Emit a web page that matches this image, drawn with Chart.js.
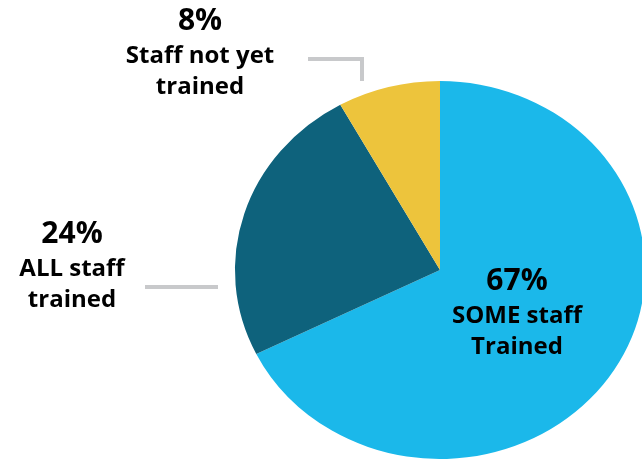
<!DOCTYPE html>
<html>
<head>
<meta charset="utf-8">
<script src="https://cdn.jsdelivr.net/npm/chart.js@4.4.1/dist/chart.umd.min.js"></script>
<style>
  html, body { margin: 0; padding: 0; background: #fff; }
  #wrap { width: 642px; height: 459px; position: relative; }
</style>
</head>
<body>
<div id="wrap"><canvas id="pie-chart"></canvas></div>
<script>
// Chart data
const categories = ['SOME staff Trained', 'ALL staff trained', 'Staff not yet trained'];
const values = [67, 24, 8];
const colors = ['#1bb8ea', '#0e627c', '#edc43c'];

// Label text shown next to each slice (percent + wrapped caption)
const percentLabels = ['67%', '24%', '8%'];
const captionLines = [
  ['SOME staff', 'Trained'],
  ['ALL staff', 'trained'],
  ['Staff not yet', 'trained'],
];

// Where each label block is placed (center x, first baseline y)
const labelPos = [
  { x: 517, y: 290 },
  { x: 72, y: 243 },
  { x: 200, y: 30 },
];

// The pie in the reference is slightly wider than tall
const stretchX = 1.085;

const ellipsePlugin = {
  id: 'ellipse',
  beforeDatasetsDraw(chart) {
    const arc = chart.getDatasetMeta(0).data[0];
    const ctx = chart.ctx;
    ctx.save();
    ctx.translate(arc.x, arc.y);
    ctx.scale(stretchX, 1);
    ctx.translate(-arc.x, -arc.y);
  },
  afterDatasetsDraw(chart) {
    chart.ctx.restore();
  },
};

const labelPlugin = {
  id: 'sliceLabels',
  afterDraw(chart) {
    const ctx = chart.ctx;
    ctx.save();

    // leader lines
    ctx.strokeStyle = '#c8c9cb';
    ctx.lineWidth = 4;
    ctx.lineCap = 'butt';
    ctx.beginPath();
    ctx.moveTo(308, 59);
    ctx.lineTo(362, 59);
    ctx.moveTo(362, 57);
    ctx.lineTo(362, 81);
    ctx.moveTo(145, 287);
    ctx.lineTo(218, 287);
    ctx.stroke();

    ctx.fillStyle = '#000';
    ctx.textAlign = 'center';
    ctx.textBaseline = 'alphabetic';
    percentLabels.forEach((pct, i) => {
      const p = labelPos[i];
      ctx.font = 'bold 30px "Open Sans"';
      ctx.fillText(pct, p.x, p.y);
      ctx.font = 'bold 24px "Open Sans"';
      captionLines[i].forEach((line, j) => {
        ctx.fillText(line, p.x, p.y + 33 + j * 31);
      });
    });
    ctx.restore();
  },
};

const ctxPie = document.getElementById('pie-chart').getContext('2d');
const pieChart = new Chart(ctxPie, {
  type: 'pie',
  data: {
    labels: categories,
    datasets: [
      {
        data: values,
        backgroundColor: colors,
        borderWidth: 0,
        clip: false,
      },
    ],
  },
  options: {
    responsive: true,
    maintainAspectRatio: false,
    animation: false,
    layout: {
      padding: { top: 81, bottom: 0, left: 251, right: 13 },
    },
    plugins: {
      legend: { display: false },
      tooltip: { enabled: false },
    },
  },
  plugins: [ellipsePlugin, labelPlugin],
});
</script>
</body>
</html>
